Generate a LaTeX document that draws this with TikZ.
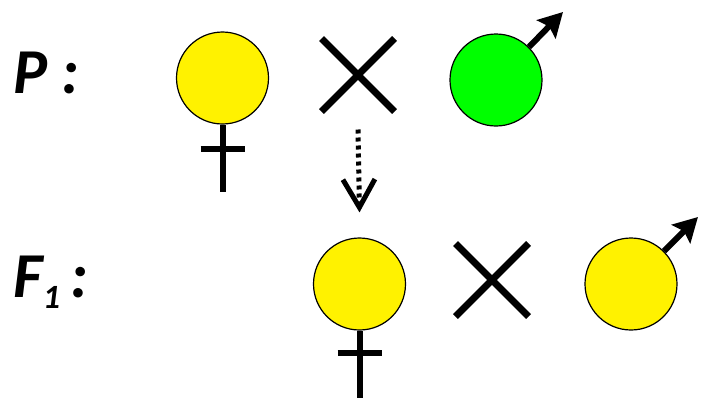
\documentclass[tikz,border=0pt]{standalone}
\usepackage{fontspec}
\setmainfont{Carlito}
\usepackage{tikz}
\usetikzlibrary{arrows.meta,shapes.misc,calc}

\begin{document}
\begin{tikzpicture}[x=0.5pt,y=-0.5pt,
  fem/.style={draw,circle,line width=0.6pt,minimum size=46pt,inner sep=0pt,fill=yellow},
  mal/.style={draw,circle,line width=0.6pt,minimum size=46pt,inner sep=0pt},
  cross/.style={draw,cross out,line width=3.5pt,minimum size=33pt,inner sep=0pt},
  stem/.style={line width=3pt},
  lab/.style={anchor=base west,inner sep=0pt,font=\fontsize{32}{36}\selectfont\bfseries\itshape}]
  \useasboundingbox (0,0) rectangle (701,397);
  % parents
  \node[lab](p) at (13,93){P :};
  \node[fem](pf) at (222.5,78){};
  \node[cross](x1) at (358,75){};
  \node[mal,fill=green](pm) at (496,80){};
  \coordinate(pfend) at (222.5,192);
  \draw[stem](pf.south)--(pfend);
  \draw[stem]($(pf.south)+(-22,24)$)--($(pf.south)+(22,24)$);
  \coordinate(pmtip) at (563,12);
  \draw[stem,-{Stealth[length=12pt,width=13pt,inset=2pt]}](pm.45)--(pmtip);
  % offspring
  \node[lab](f) at (13,297){F\raisebox{-5.5pt}{\fontsize{17}{17}\selectfont 1}\,:};
  \node[fem](ff) at (359.5,284){};
  \node[cross](x2) at (492,280){};
  \node[mal,fill=yellow](fm) at (631,284){};
  \coordinate(ffend) at (359.5,400);
  \draw[stem](ff.south)--(ffend);
  \draw[stem]($(ff.south)+(-22,22)$)--($(ff.south)+(22,22)$);
  \coordinate(fmtip) at (698,217);
  \draw[stem,-{Stealth[length=12pt,width=13pt,inset=2pt]}](fm.45)--(fmtip);
  % dotted arrow
  \draw[line width=2.5pt,dash pattern=on 2pt off 2pt,
    -{Straight Barb[length=14pt,width=16pt,line width=2.5pt]}]
    ($(x1.south)+(0,18)$)--($(ff.north)+(0,-25)$);
\end{tikzpicture}
\end{document}
